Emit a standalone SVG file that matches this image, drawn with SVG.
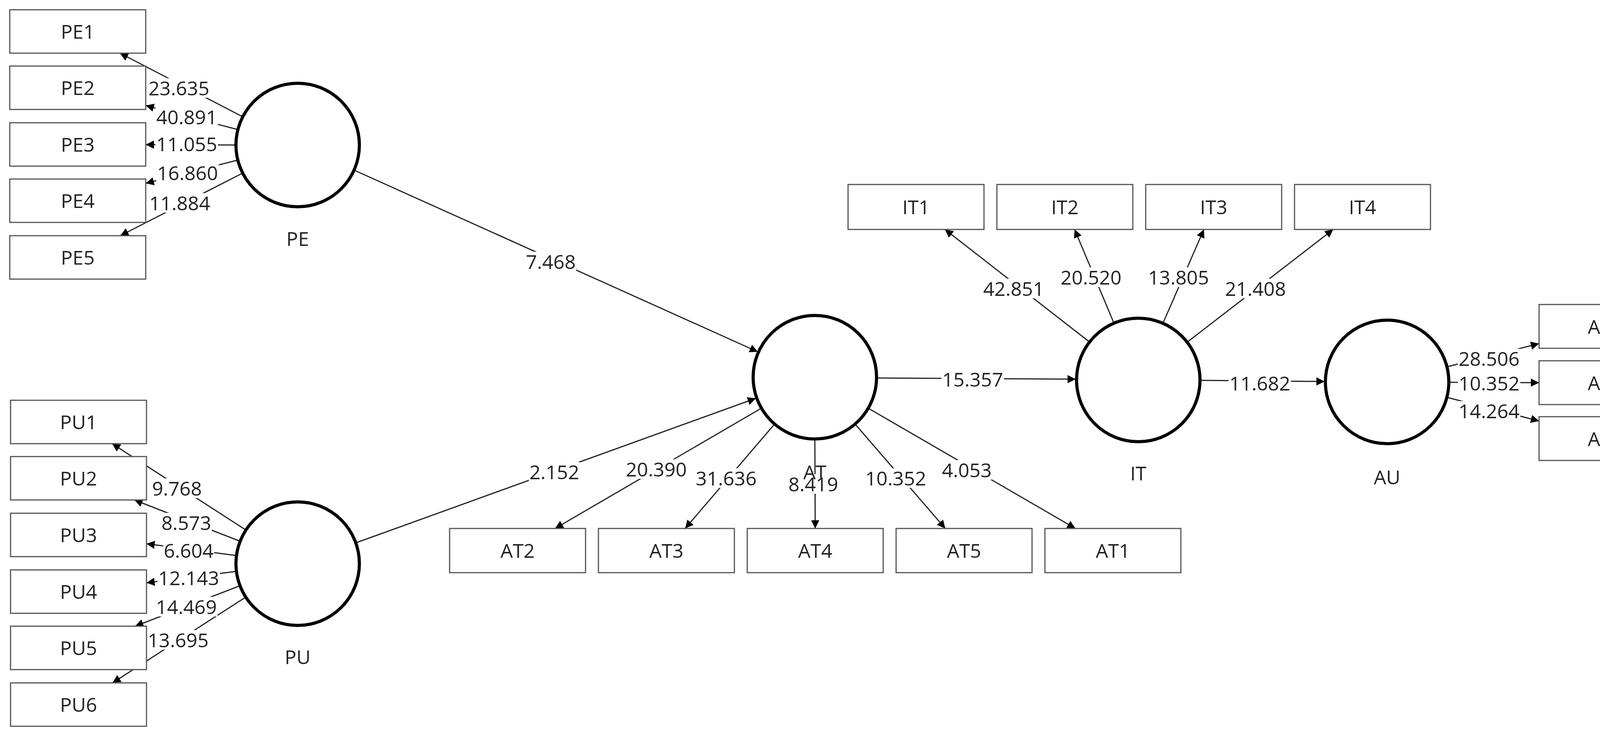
<svg xmlns="http://www.w3.org/2000/svg" width="4319" height="1888" viewBox="0 0 4319 1888">
<defs>
<marker id="ah" viewBox="0 0 10 10" refX="10" refY="5" markerWidth="7" markerHeight="7" markerUnits="strokeWidth" orient="auto"><path d="M0,0 L10,5 L0,10 z" fill="#000"/></marker>
<style>
rect{fill:#fff;stroke:#555;stroke-width:3}
circle{fill:#fff;stroke:#000;stroke-width:8}
text{font-family:"Open Sans","Noto Sans",sans-serif;font-size:50px;fill:#222;text-anchor:middle;dominant-baseline:central}
.c line{stroke:#222;stroke-width:3;marker-end:url(#ah)}
.c rect{fill:#fff;stroke:none}
</style>
</defs>
<rect width="4319" height="1888" style="fill:#fff;stroke:none"/>
<g class="c" id="connectors">
<line x1="620" y1="298" x2="307" y2="136"/>
<line x1="607" y1="331" x2="373" y2="270"/>
<line x1="602" y1="371" x2="373" y2="370"/>
<line x1="607" y1="410" x2="373" y2="469"/>
<line x1="619" y1="444" x2="308" y2="603"/>
<line x1="628" y1="1355" x2="287" y2="1135"/>
<line x1="613" y1="1384" x2="344" y2="1279"/>
<line x1="603" y1="1421" x2="375" y2="1391"/>
<line x1="603" y1="1462" x2="375" y2="1491"/>
<line x1="613" y1="1499" x2="346" y2="1602"/>
<line x1="627" y1="1529" x2="288" y2="1747"/>
<line x1="1948" y1="1045" x2="1421" y2="1352"/>
<line x1="1982" y1="1086" x2="1754" y2="1352"/>
<line x1="2086" y1="1125" x2="2087" y2="1352"/>
<line x1="2190" y1="1086" x2="2420" y2="1352"/>
<line x1="2224" y1="1045" x2="2753" y2="1352"/>
<line x1="908" y1="436" x2="1940" y2="900"/>
<line x1="913" y1="1388" x2="1935" y2="1019"/>
<line x1="2246" y1="967" x2="2754" y2="970"/>
<line x1="3074" y1="973" x2="3391" y2="976"/>
<line x1="2788" y1="874" x2="2419" y2="587"/>
<line x1="2851" y1="825" x2="2751" y2="587"/>
<line x1="2978" y1="825" x2="3082" y2="587"/>
<line x1="3041" y1="874" x2="3413" y2="587"/>
<line x1="3706" y1="938" x2="3940" y2="879"/>
<line x1="3711" y1="978" x2="3940" y2="979"/>
<line x1="3706" y1="1017" x2="3940" y2="1077"/>
<rect x="378" y="200" width="160" height="50"/><text x="458" y="225">23.635</text>
<rect x="398" y="274" width="160" height="50"/><text x="478" y="299">40.891</text>
<rect x="398" y="343" width="160" height="50"/><text x="478" y="368">11.055</text>
<rect x="400" y="417" width="160" height="50"/><text x="480" y="442">16.860</text>
<rect x="380" y="494" width="160" height="50"/><text x="460" y="519">11.884</text>
<rect x="388" y="1224" width="130" height="50"/><text x="453" y="1249">9.768</text>
<rect x="412" y="1312" width="130" height="50"/><text x="477" y="1337">8.573</text>
<rect x="418" y="1383" width="130" height="50"/><text x="483" y="1408">6.604</text>
<rect x="403" y="1453" width="160" height="50"/><text x="483" y="1478">12.143</text>
<rect x="397" y="1527" width="160" height="50"/><text x="477" y="1552">14.469</text>
<rect x="376" y="1612" width="160" height="50"/><text x="456" y="1637">13.695</text>
<rect x="1345" y="644" width="130" height="50"/><text x="1410" y="669">7.468</text>
<rect x="1354" y="1182" width="130" height="50"/><text x="1419" y="1207">2.152</text>
<rect x="1600" y="1175" width="160" height="50"/><text x="1680" y="1200">20.390</text>
<rect x="1779" y="1198" width="160" height="50"/><text x="1859" y="1223">31.636</text>
<rect x="2213" y="1198" width="160" height="50"/><text x="2293" y="1223">10.352</text>
<rect x="2410" y="1177" width="130" height="50"/><text x="2475" y="1202">4.053</text>
<rect x="2410" y="945" width="160" height="50"/><text x="2490" y="970">15.357</text>
<rect x="3145" y="955" width="160" height="50"/><text x="3225" y="980">11.682</text>
<rect x="2515" y="713" width="160" height="50"/><text x="2595" y="738">42.851</text>
<rect x="2713" y="684" width="160" height="50"/><text x="2793" y="709">20.520</text>
<rect x="2937" y="684" width="160" height="50"/><text x="3017" y="709">13.805</text>
<rect x="3134" y="713" width="160" height="50"/><text x="3214" y="738">21.408</text>
<rect x="3732" y="892" width="160" height="50"/><text x="3812" y="917">28.506</text>
<rect x="3732" y="955" width="160" height="50"/><text x="3812" y="980">10.352</text>
<rect x="3732" y="1026" width="160" height="50"/><text x="3812" y="1051">14.264</text>
<rect x="2017" y="1213" width="130" height="50"/><text x="2082" y="1238">8.419</text>
</g>
<g id="PE"><circle cx="762" cy="371" r="158"/><text x="762" y="610">PE</text></g>
<g id="PU"><circle cx="762" cy="1442" r="158"/><text x="762" y="1680">PU</text></g>
<g id="AT"><circle cx="2086" cy="965" r="158"/><text x="2086" y="1207">AT</text></g>
<g id="IT"><circle cx="2914" cy="972" r="158"/><text x="2914" y="1210">IT</text></g>
<g id="AU"><circle cx="3551" cy="977" r="158"/><text x="3551" y="1220">AU</text></g>
<g id="PE1"><rect x="25" y="25" width="348" height="111"/><text x="199" y="80">PE1</text></g>
<g id="PE2"><rect x="25" y="169" width="348" height="111"/><text x="199" y="224">PE2</text></g>
<g id="PE3"><rect x="25" y="314" width="348" height="111"/><text x="199" y="369">PE3</text></g>
<g id="PE4"><rect x="25" y="458" width="348" height="111"/><text x="199" y="513">PE4</text></g>
<g id="PE5"><rect x="25" y="603" width="348" height="111"/><text x="199" y="658">PE5</text></g>
<g id="PU1"><rect x="27" y="1024" width="348" height="111"/><text x="201" y="1079">PU1</text></g>
<g id="PU2"><rect x="27" y="1168" width="348" height="111"/><text x="201" y="1223">PU2</text></g>
<g id="PU3"><rect x="27" y="1313" width="348" height="111"/><text x="201" y="1368">PU3</text></g>
<g id="PU4"><rect x="27" y="1458" width="348" height="111"/><text x="201" y="1513">PU4</text></g>
<g id="PU5"><rect x="27" y="1602" width="348" height="111"/><text x="201" y="1657">PU5</text></g>
<g id="PU6"><rect x="27" y="1747" width="348" height="111"/><text x="201" y="1802">PU6</text></g>
<g id="AT2"><rect x="1151" y="1352" width="348" height="113"/><text x="1325" y="1408">AT2</text></g>
<g id="AT3"><rect x="1532" y="1352" width="348" height="113"/><text x="1706" y="1408">AT3</text></g>
<g id="AT4"><rect x="1913" y="1352" width="348" height="113"/><text x="2087" y="1408">AT4</text></g>
<g id="AT5"><rect x="2294" y="1352" width="348" height="113"/><text x="2468" y="1408">AT5</text></g>
<g id="AT1"><rect x="2675" y="1352" width="348" height="113"/><text x="2849" y="1408">AT1</text></g>
<g id="IT1"><rect x="2171" y="472" width="348" height="115"/><text x="2345" y="529">IT1</text></g>
<g id="IT2"><rect x="2552" y="472" width="348" height="115"/><text x="2726" y="529">IT2</text></g>
<g id="IT3"><rect x="2933" y="472" width="348" height="115"/><text x="3107" y="529">IT3</text></g>
<g id="IT4"><rect x="3314" y="472" width="348" height="115"/><text x="3488" y="529">IT4</text></g>
<g id="AU1"><rect x="3940" y="779" width="347" height="112"/><text x="4113" y="835">AU1</text></g>
<g id="AU2"><rect x="3940" y="923" width="347" height="112"/><text x="4113" y="979">AU2</text></g>
<g id="AU3"><rect x="3940" y="1066" width="347" height="112"/><text x="4113" y="1122">AU3</text></g>
</svg>
